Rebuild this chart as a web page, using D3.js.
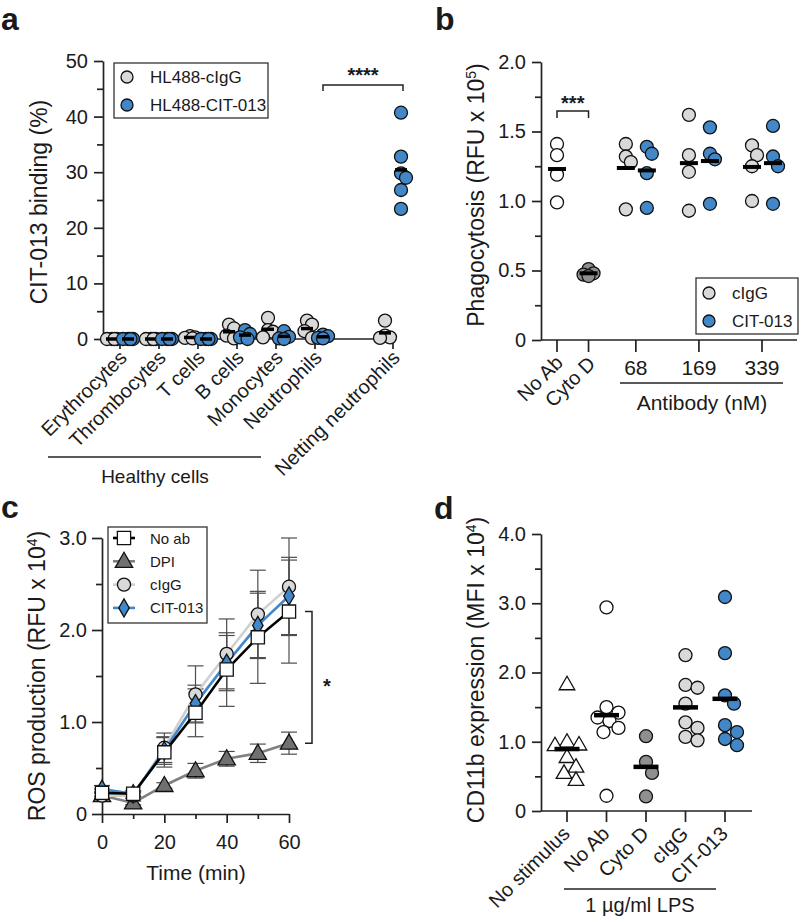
<!DOCTYPE html>
<html><head><meta charset="utf-8">
<script src="https://cdn.jsdelivr.net/npm/d3@7"></script>
<style>body{margin:0;background:#fff}svg{display:block}</style>
</head><body><svg width="800" height="918"></svg>
<script>
// ---------------- DATA ----------------
// Panel a
const aCategories = ["Erythrocytes","Thrombocytes","T cells","B cells","Monocytes","Neutrophils","Netting neutrophils"];
const aSeries = ["HL488-cIgG","HL488-CIT-013"];
const aIgG = [[0,0,0,0],[0,0,0,0],[0.5,0.3,0.2,0.1],[2.6,1.9,0.6,0.1],[3.8,1.6,1.3,0.3],[3.3,2.6,1.4,0.2],[3.3,0.6,0.3,0.2]];
const aCIT = [[0,0,0,0],[0,0,0,0],[0,0,0,0],[1.6,0.9,0.3,0.0],[1.4,0.4,0.1,0.0],[0.8,0.5,0.2,0.1],[40.7,32.8,29.8,29.0,26.8,23.4]];
const aTicks = [0,10,20,30,40,50];
// Panel b
const bGroups = ["No Ab","Cyto D","68","169","339"];
const bSeries = ["cIgG","CIT-013"];
const bNoAb = [1.41,1.33,1.19,0.99];
const bCytoD = [0.51,0.48,0.47,0.46];
const bIgG = [[1.41,1.32,1.28,0.94],[1.62,1.33,1.21,0.93],[1.40,1.33,1.25,1.00]];
const bCIT = [[1.39,1.34,1.20,0.95],[1.53,1.34,1.30,0.98],[1.54,1.32,1.25,0.98]];
const bTicks = [0,0.5,1.0,1.5,2.0];
// Panel c
const cTime = [0,10,20,30,40,50,60];
const cSeries = ["No ab","DPI","cIgG","CIT-013"];
const cNoAb  = [0.23,0.22,0.67,1.10,1.57,1.92,2.20];
const cNoAbSD= [0.04,0.03,0.16,0.26,0.40,0.50,0.56];
const cDPI   = [0.20,0.12,0.31,0.47,0.60,0.66,0.77];
const cDPISD = [0.03,0.02,0.03,0.08,0.08,0.10,0.12];
const cIgG   = [0.20,0.20,0.72,1.30,1.74,2.17,2.47];
const cIgGSD = [0.04,0.03,0.16,0.31,0.38,0.48,0.53];
const cCIT   = [0.27,0.22,0.69,1.20,1.64,2.05,2.37];
const cCITSD = [0.04,0.03,0.15,0.20,0.30,0.35,0.42];
const cYTicks = [0,1.0,2.0,3.0];
const cXTicks = [0,20,40,60];
// Panel d
const dGroups = ["No stimulus","No Ab","Cyto D","cIgG","CIT-013"];
const dValues = [
  [1.83,1.00,0.96,0.95,0.78,0.64,0.55,0.45],
  [2.94,1.50,1.42,1.35,1.30,1.20,1.14,0.22],
  [1.08,0.71,0.55,0.21],
  [2.25,1.82,1.78,1.55,1.28,1.20,1.07,1.02],
  [3.09,2.28,1.67,1.55,1.24,1.14,1.04,0.95]
];
const dTicks = [0,1.0,2.0,3.0,4.0];

// ---------------- STYLE ----------------
const FONT = '"Liberation Sans", Arial, Helvetica, sans-serif';
const BLUE = "#4288c9", LGRAY = "#d9d9d9", DGRAY = "#8f8f8f", TRI = "#707070", INK = "#1a1a1a";
const svg = d3.select("svg").attr("font-family", FONT);
const fmt1 = v => v === 0 ? "0" : d3.format(".1f")(v);

function styleAxis(g, fs) {
  g.selectAll(".domain, .tick line").attr("stroke", "#222").attr("stroke-width", 1.7);
  g.selectAll("text").attr("font-size", fs).attr("font-family", FONT).attr("fill", INK);
}
function yAxis(x, scale, majors, fmt, majLen, minLen, pad) {
  const minors = d3.pairs(majors).map(([a, b]) => (a + b) / 2);
  const g = svg.append("g").attr("transform", `translate(${x},0)`)
    .call(d3.axisLeft(scale).tickValues(majors).tickSize(majLen).tickSizeOuter(0).tickPadding(pad).tickFormat(fmt));
  const m = svg.append("g").attr("transform", `translate(${x},0)`)
    .call(d3.axisLeft(scale).tickValues(minors).tickSize(minLen).tickSizeOuter(0).tickFormat(""));
  m.select(".domain").remove();
  styleAxis(g, 20); styleAxis(m, 20);
}
function hline(x1, x2, y, w = 1.7) {
  svg.append("line").attr("x1", x1).attr("x2", x2).attr("y1", y).attr("y2", y).attr("stroke", "#222").attr("stroke-width", w);
}
function vtick(x, y, len) {
  svg.append("line").attr("x1", x).attr("x2", x).attr("y1", y).attr("y2", y + len).attr("stroke", "#222").attr("stroke-width", 1.7);
}
function text(x, y, t, fs = 20, anchor = "middle", weight = "normal") {
  return svg.append("text").attr("x", x).attr("y", y).attr("text-anchor", anchor).attr("font-size", fs)
    .attr("font-weight", weight).attr("fill", INK).text(t);
}
function rotLabel(x, y, t) {
  svg.append("text").attr("transform", `translate(${x},${y}) rotate(-45)`).attr("text-anchor", "end")
    .attr("font-size", 20).attr("fill", INK).text(t);
}
function yTitle(x, y, main, sup) {
  const t = svg.append("text").attr("transform", `translate(${x},${y}) rotate(-90)`).attr("text-anchor", "middle")
    .attr("font-size", 23).attr("fill", INK);
  if (sup) {
    t.append("tspan").text(main);
    t.append("tspan").attr("dy", -8).attr("font-size", 14).text(sup);
    t.append("tspan").attr("dy", 8).text(")");
  } else t.text(main);
}
function swarm(vals, ys, minDist, step, maxOff) {
  const placed = [], out = new Array(vals.length);
  const order = vals.map((v, i) => ({ v, i })).sort((a, b) => b.v - a.v);
  const nK = Math.floor(maxOff / step) * 2;
  for (const o of order) {
    const y = ys(o.v);
    let best = 0, bestScore = -Infinity;
    for (let k = 0; k <= nK; k++) {
      const off = (k % 2 ? 1 : -1) * Math.ceil(k / 2) * step;
      let md = Infinity;
      for (const p of placed) md = Math.min(md, Math.hypot(off - p.x, y - p.y));
      if (md >= minDist) { best = off; bestScore = Infinity; break; }
      if (md > bestScore) { bestScore = md; best = off; }
    }
    placed.push({ x: best, y }); out[o.i] = best;
  }
  return out;
}
function dotGroup(cx, vals, ys, fill, opts) {
  const offs = swarm(vals, ys, opts.minDist, opts.step, opts.maxOff);
  const g = svg.append("g");
  if (opts.shape === "tri") {
    const sym = d3.symbol().type(d3.symbolTriangle).size(opts.size);
    g.selectAll("path").data(vals).join("path")
      .attr("transform", (d, i) => `translate(${cx + offs[i]},${ys(d) + 1})`).attr("d", sym)
      .attr("fill", fill).attr("stroke", "#111").attr("stroke-width", 1.3);
  } else {
    g.selectAll("circle").data(vals).join("circle")
      .attr("cx", (d, i) => cx + offs[i]).attr("cy", d => ys(d)).attr("r", opts.r)
      .attr("fill", fill).attr("stroke", "#111").attr("stroke-width", 1.3);
  }
  const m = d3.mean(vals);
  svg.append("line").attr("x1", cx - opts.bar / 2).attr("x2", cx + opts.bar / 2)
    .attr("y1", ys(m)).attr("y2", ys(m)).attr("stroke", "#000").attr("stroke-width", opts.barW);
}

// ---------------- PANEL LETTERS ----------------
text(1, 30, "a", 32, "start", "bold");
text(435, 30, "b", 32, "start", "bold");
text(1, 518, "c", 32, "start", "bold");
text(434, 519, "d", 32, "start", "bold");

// ---------------- PANEL A ----------------
{
  const y = d3.scaleLinear([0, 50], [339, 61]);
  const x = d3.scalePoint([...aCategories.slice(0, 6), "_gap", aCategories[6]], [120, 393]);
  const offs = [-8, 8];
  yAxis(103, y, aTicks, d3.format("d"), 9, 6, 6);
  hline(103, 395, y(0));
  aCategories.forEach(c => { vtick(x(c), y(0), 10); rotLabel(x(c) + 8, y(0) + 20, c); });
  const opts = { r: 6.5, minDist: 9, step: 2.5, maxOff: 5, bar: 12, barW: 3.5 };
  aCategories.forEach((c, i) => {
    dotGroup(x(c) + offs[0], aIgG[i], y, LGRAY, opts);
    dotGroup(x(c) + offs[1], aCIT[i], y, BLUE, opts);
  });
  // significance
  const bx1 = x("Neutrophils") + offs[1], bx2 = x("Netting neutrophils") + offs[1] + 2;
  svg.append("path").attr("d", `M${bx1},91V85H${bx2}V91`).attr("fill", "none").attr("stroke", "#222").attr("stroke-width", 1.5);
  text((bx1 + bx2) / 2, 82, "****", 20, "middle", "bold");
  // group line
  hline(48, 261, 457, 1.5);
  text(155, 483, "Healthy cells", 19);
  yTitle(47, 202, "CIT-013 binding (%)");
  // legend
  svg.append("rect").attr("x", 114).attr("y", 63).attr("width", 154).attr("height", 55)
    .attr("fill", "#fff").attr("stroke", "#333").attr("stroke-width", 1.3);
  [LGRAY, BLUE].forEach((f, i) => {
    svg.append("circle").attr("cx", 127).attr("cy", 77 + i * 28).attr("r", 6).attr("fill", f).attr("stroke", "#111").attr("stroke-width", 1.3);
    text(150, 83 + i * 28, aSeries[i], 17, "start");
  });
}

// ---------------- PANEL B ----------------
{
  const y = d3.scaleLinear([0, 2], [340, 62]);
  const slots = [0, 2, 5, 9, 13];
  const xs = d3.scaleLinear([0, 13], [557, 762]);
  const x = g => xs(slots[bGroups.indexOf(g)]);
  yAxis(541, y, bTicks, fmt1, 9, 6, 6);
  hline(541, 797, y(0));
  bGroups.forEach(g => vtick(x(g), y(0), 12));
  rotLabel(x("No Ab") + 7, y(0) + 24, "No Ab");
  rotLabel(x("Cyto D") + 8, y(0) + 25, "Cyto D");
  ["68", "169", "339"].forEach(g => text(x(g), 375, g, 21));
  hline(620, 783, 383, 1.5);
  text(702, 410, "Antibody (nM)", 21);
  const opts = { r: 6.5, minDist: 11, step: 2.5, maxOff: 5, bar: 18, barW: 4 };
  dotGroup(x("No Ab"), bNoAb, y, "#fff", opts);
  dotGroup(x("Cyto D"), bCytoD, y, DGRAY, opts);
  ["68", "169", "339"].forEach((g, i) => {
    dotGroup(x(g) - 10, bIgG[i], y, LGRAY, opts);
    dotGroup(x(g) + 11, bCIT[i], y, BLUE, opts);
  });
  svg.append("path").attr("d", `M${x("No Ab")},118V111H${x("Cyto D")}V118`).attr("fill", "none").attr("stroke", "#222").attr("stroke-width", 1.5);
  text((x("No Ab") + x("Cyto D")) / 2, 110, "***", 20, "middle", "bold");
  yTitle(484, 195, "Phagocytosis (RFU x 10", "5");
  svg.append("rect").attr("x", 696).attr("y", 278).attr("width", 102).attr("height", 56)
    .attr("fill", "#fff").attr("stroke", "#333").attr("stroke-width", 1.3);
  [LGRAY, BLUE].forEach((f, i) => {
    svg.append("circle").attr("cx", 709).attr("cy", 293 + i * 28).attr("r", 6).attr("fill", f).attr("stroke", "#111").attr("stroke-width", 1.3);
    text(732, 299 + i * 28, bSeries[i], 17, "start");
  });
}

// ---------------- PANEL C ----------------
{
  const y = d3.scaleLinear([0, 3], [814, 538]);
  const x = d3.scaleLinear([0, 60], [102, 289]);
  yAxis(102, y, cYTicks, fmt1, 10, 6, 5);
  const xg = svg.append("g").attr("transform", `translate(0,${y(0)})`)
    .call(d3.axisBottom(x).tickValues(cXTicks).tickSize(9).tickSizeOuter(0).tickPadding(12).tickFormat(d3.format("d")));
  const xm = svg.append("g").attr("transform", `translate(0,${y(0)})`)
    .call(d3.axisBottom(x).tickValues([10, 30, 50]).tickSize(5).tickSizeOuter(0).tickFormat(""));
  xm.select(".domain").remove();
  styleAxis(xg, 20); styleAxis(xm, 20);
  text(196, 880, "Time (min)", 21);
  yTitle(45, 676, "ROS production (RFU x 10", "4");

  const series = [
    { name: "DPI", v: cDPI, sd: cDPISD, line: "#808080", fill: TRI, shape: "tri" },
    { name: "cIgG", v: cIgG, sd: cIgGSD, line: "#d0d0d0", fill: LGRAY, shape: "circle" },
    { name: "CIT-013", v: cCIT, sd: cCITSD, line: BLUE, fill: BLUE, shape: "diamond" },
    { name: "No ab", v: cNoAb, sd: cNoAbSD, line: "#000", fill: "#fff", shape: "square" }
  ];
  const eg = svg.append("g");
  series.forEach(s => {
    cTime.forEach((t, i) => {
      const cx = x(t), y1 = y(s.v[i] + s.sd[i]), y2 = y(s.v[i] - s.sd[i]);
      eg.append("line").attr("x1", cx).attr("x2", cx).attr("y1", y1).attr("y2", y2).attr("stroke", "#4d4d4d").attr("stroke-width", 1.2);
      [y1, y2].forEach(yy => eg.append("line").attr("x1", cx - 8).attr("x2", cx + 8).attr("y1", yy).attr("y2", yy).attr("stroke", "#4d4d4d").attr("stroke-width", 1.2));
    });
  });
  const line = d3.line().x((d, i) => x(cTime[i])).y(d => y(d));
  const symType = { tri: d3.symbolTriangle, circle: d3.symbolCircle, diamond: d3.symbolDiamond, square: d3.symbolSquare };
  const symSize = { tri: 130, circle: 135, diamond: 95, square: 175 };
  function marker(g, s, cx, cy) {
    g.append("path").attr("transform", `translate(${cx},${cy + (s.shape === "tri" ? 1 : 0)})`)
      .attr("d", d3.symbol().type(symType[s.shape]).size(symSize[s.shape])())
      .attr("fill", s.fill).attr("stroke", "#111").attr("stroke-width", 1.3);
  }
  series.forEach(s => {
    svg.append("path").attr("d", line(s.v)).attr("fill", "none").attr("stroke", s.line).attr("stroke-width", 2.6);
  });
  series.forEach(s => {
    const g = svg.append("g");
    s.v.forEach((v, i) => marker(g, s, x(cTime[i]), y(v)));
  });
  // significance
  svg.append("path").attr("d", `M305,${y(cNoAb[6])}H312V${y(cDPI[6])}H305`).attr("fill", "none").attr("stroke", "#222").attr("stroke-width", 1.5);
  text(327, 693, "*", 20, "middle", "bold");
  // legend
  svg.append("rect").attr("x", 108).attr("y", 527).attr("width", 99).attr("height", 96)
    .attr("fill", "#fff").attr("stroke", "#333").attr("stroke-width", 1.3);
  const legOrder = [series[3], series[0], series[1], series[2]];
  legOrder.forEach((s, i) => {
    const ly = 538 + i * 23.3;
    svg.append("line").attr("x1", 113).attr("x2", 135).attr("y1", ly).attr("y2", ly).attr("stroke", s.line).attr("stroke-width", 2.6);
    marker(svg.append("g"), s, 124, ly);
    text(150, ly + 5.5, cSeries[cSeries.indexOf(s.name)], 15, "start");
  });
}

// ---------------- PANEL D ----------------
{
  const y = d3.scaleLinear([0, 4], [811, 534]);
  const x = d3.scalePoint(dGroups, [567, 725]);
  yAxis(541, y, dTicks, fmt1, 9, 6, 6);
  hline(541, 752, y(0));
  dGroups.forEach(g => { vtick(x(g), y(0), 11); rotLabel(x(g) + 4, y(0) + 24, g); });
  const fills = ["#fff", "#fff", DGRAY, LGRAY, BLUE];
  dGroups.forEach((g, i) => {
    dotGroup(x(g), dValues[i], y, fills[i],
      { r: 6.5, minDist: 12, step: 3, maxOff: 14, bar: 25, barW: 4.5, shape: i === 0 ? "tri" : "circle", size: 105 });
  });
  hline(564, 716, 889, 1.5);
  text(640, 912, "1 µg/ml LPS", 20);
  yTitle(484, 670, "CD11b expression (MFI x 10", "4");
}
</script></body></html>
